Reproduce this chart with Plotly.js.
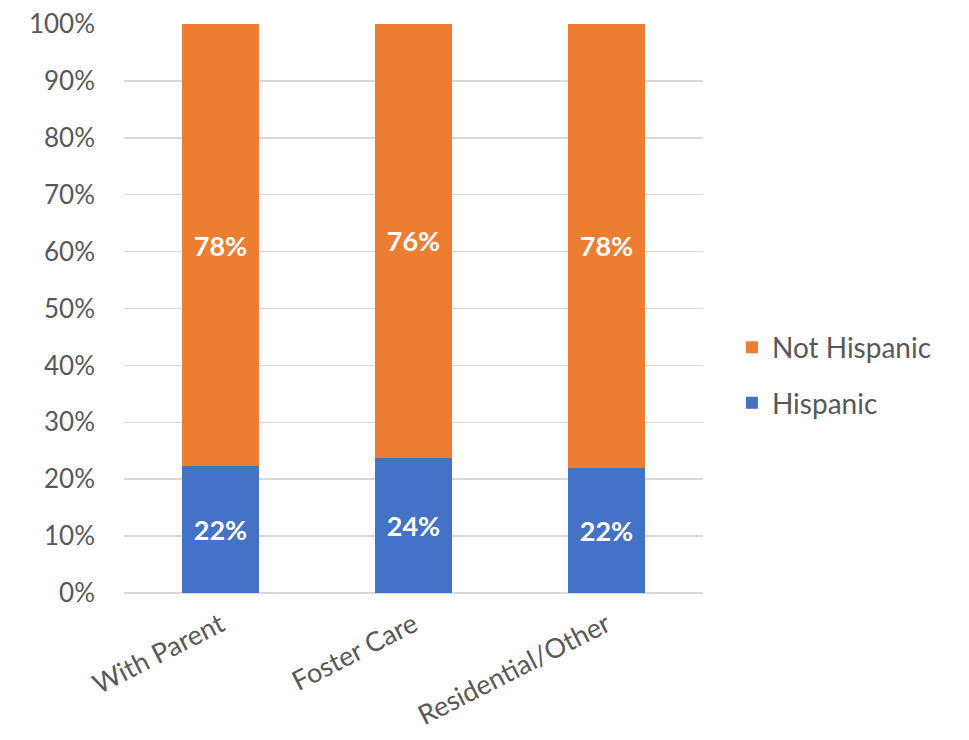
<!DOCTYPE html>
<html>
<head>
<meta charset="utf-8">
<script src="https://cdn.plot.ly/plotly-3.0.1.min.js"></script>
<style>html,body{margin:0;padding:0;background:#fff;}#chart{width:969px;height:740px;}</style>
</head>
<body>
<div id="chart"></div>
<script>
const categories = ["With Parent", "Foster Care", "Residential/Other"];
const hispanic = [22.3, 23.8, 22.0];
const notHispanic = [77.7, 76.2, 78.0];
const yTicks = [0, 10, 20, 30, 40, 50, 60, 70, 80, 90, 100];
const yTickText = ["0%", "10%", "20%", "30%", "40%", "50%", "60%", "70%", "80%", "90%", "100%"];

const FONT = "Lato, 'Open Sans', sans-serif";
const labelFont = {family: FONT, size: 27, color: "#ffffff", weight: "bold"};

const traces = [
  {
    type: "bar", name: "Hispanic", x: categories, y: hispanic,
    marker: {color: "#4472C4"},
    texttemplate: "<b>%{y:.0f}%</b>", textposition: "inside", insidetextanchor: "middle",
    textfont: labelFont, legendgroup: "h", legendrank: 2, hoverinfo: "skip"
  },
  {
    type: "bar", name: "Not Hispanic", x: categories, y: notHispanic,
    marker: {color: "#ED7D31"},
    texttemplate: "<b>%{y:.0f}%</b>", textposition: "inside", insidetextanchor: "middle",
    textfont: labelFont, legendgroup: "n", legendrank: 1, hoverinfo: "skip"
  }
];

const layout = {
  width: 969, height: 740,
  barmode: "stack", bargap: 0.6,
  margin: {l: 124, r: 266, t: 24, b: 147},
  paper_bgcolor: "#ffffff", plot_bgcolor: "#ffffff",
  font: {family: FONT, color: "#595959", size: 26},
  showlegend: true,
  legend: {
    x: 1.05, y: 0.383, xanchor: "left", yanchor: "middle",
    traceorder: "grouped", tracegroupgap: 16,
    font: {family: FONT, size: 28, color: "#595959"},
    itemwidth: 30
  },
  xaxis: {
    type: "category", tickangle: -27, showgrid: false, zeroline: false,
    showline: false, ticks: "", ticklabelstandoff: 10,
    tickfont: {family: FONT, size: 27, color: "#595959"}
  },
  yaxis: {
    range: [0, 100], tickvals: yTicks, ticktext: yTickText,
    showgrid: true, gridcolor: "#D9D9D9", gridwidth: 1.5,
    zeroline: true, zerolinecolor: "#D9D9D9", zerolinewidth: 1.5,
    showline: false, ticks: "", ticklabelstandoff: 28,
    tickfont: {family: FONT, size: 26, color: "#595959"}
  }
};

Plotly.newPlot("chart", traces, layout, {displayModeBar: false, staticPlot: true});
</script>
</body>
</html>
